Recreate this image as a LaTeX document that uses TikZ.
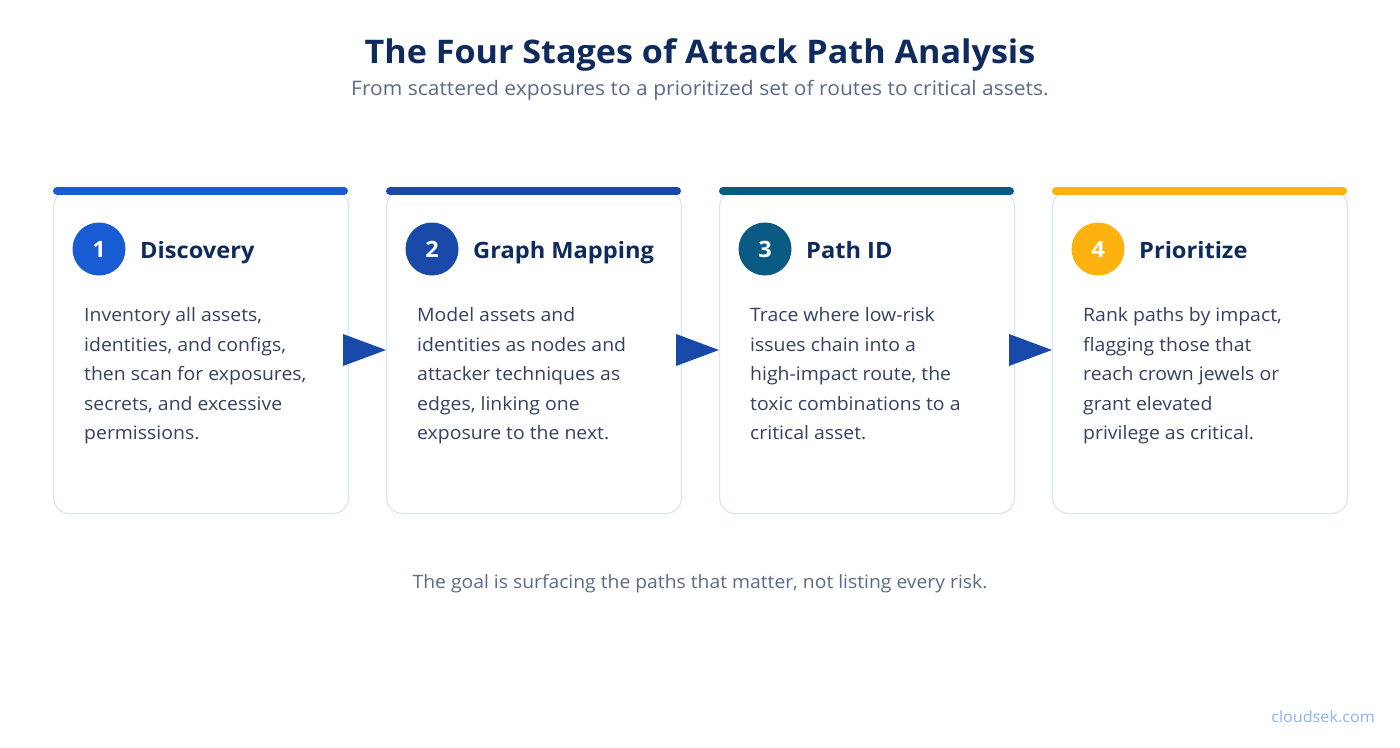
\documentclass[tikz,border=0pt]{standalone}
\usepackage{fontspec}
\setmainfont{Open Sans}[FakeStretch=1.05]
\definecolor{navy}{HTML}{0F2A5C}
\definecolor{subgray}{HTML}{5A6B87}
\definecolor{bodygray}{HTML}{344260}
\definecolor{cardline}{HTML}{D8E4F7}
\definecolor{cA}{HTML}{175CD3}
\definecolor{cB}{HTML}{1849A9}
\definecolor{cC}{HTML}{0B5A84}
\definecolor{cD}{HTML}{FDB20F}
\definecolor{arrowc}{HTML}{1849A9}
\definecolor{brand}{HTML}{8AB4F8}
\tikzset{
  card/.style={draw=cardline, line width=1.2pt, fill=white, rounded corners=16pt, minimum width=295pt, minimum height=323pt, anchor=north west, inner sep=0pt},
  topbar/.style={line width=8pt, line cap=round},
  badge/.style={circle, minimum size=53pt, inner sep=0pt, text=white, font=\fontsize{22.5}{24}\selectfont\bfseries},
  stagetitle/.style={anchor=base west, text=navy, inner sep=0pt, font=\fontsize{22.5}{26}\selectfont\bfseries},
  bodytext/.style={anchor=north west, text=bodygray, inner sep=0pt, align=left, font=\fontsize{18.5}{29.5}\selectfont},
  flowarrow/.style={fill=arrowc, draw=none}
}
\begin{document}
\begin{tikzpicture}[x=1pt,y=-1pt]
\useasboundingbox (0,0) rectangle (1400,747);
\node[anchor=base, text=navy, font=\fontsize{32.5}{36}\selectfont\bfseries] (title) at (700,63) {The Four Stages of Attack Path Analysis};
\node[anchor=base, text=subgray, font=\fontsize{20}{22}\selectfont] (subtitle) at (700,95) {From scattered exposures to a prioritized set of routes to critical assets.};

% cards
\foreach \i/\x/\c/\n/\t in {1/53/cA/1/Discovery, 2/386/cB/2/Graph Mapping, 3/719/cC/3/Path ID, 4/1052/cD/4/Prioritize}{
  \node[card] (card\i) at (\x,190) {};
  \draw[topbar, draw=\c] (\x+4,191) -- (\x+291,191);
  \node[badge, fill=\c] (badge\i) at (\x+46,249) {\n};
  \node[stagetitle] (stitle\i) at (\x+87,258) {\t};
}

\node[bodytext] (body1) at (84,307.5) {Inventory all assets,\\identities, and configs,\\then scan for exposures,\\secrets, and excessive\\permissions.};
\node[bodytext] (body2) at (417,307.5) {Model assets and\\identities as nodes and\\attacker techniques as\\edges, linking one\\exposure to the next.};
\node[bodytext] (body3) at (750,307.5) {Trace where low-risk\\issues chain into a\\high-impact route, the\\toxic combinations to a\\critical asset.};
\node[bodytext] (body4) at (1083,307.5) {Rank paths by impact,\\flagging those that\\reach crown jewels or\\grant elevated\\privilege as critical.};

% arrows
\foreach \a/\b in {1/2, 2/3, 3/4}{
  \coordinate (tip\a) at (card\b.west |- 0,350);
  \fill[flowarrow] ([xshift=-43pt,yshift=-16pt]tip\a) -- (tip\a) -- ([xshift=-43pt,yshift=16pt]tip\a) -- cycle;
}

\node[anchor=base, text=subgray, font=\fontsize{18.4}{20}\selectfont] (footer) at (700,588) {The goal is surfacing the paths that matter, not listing every risk.};
\node[anchor=base east, inner sep=0pt, text=brand, font=\fontsize{15.4}{18}\selectfont] (brand) at (1375,722) {cloudsek.com};
\end{tikzpicture}
\end{document}
